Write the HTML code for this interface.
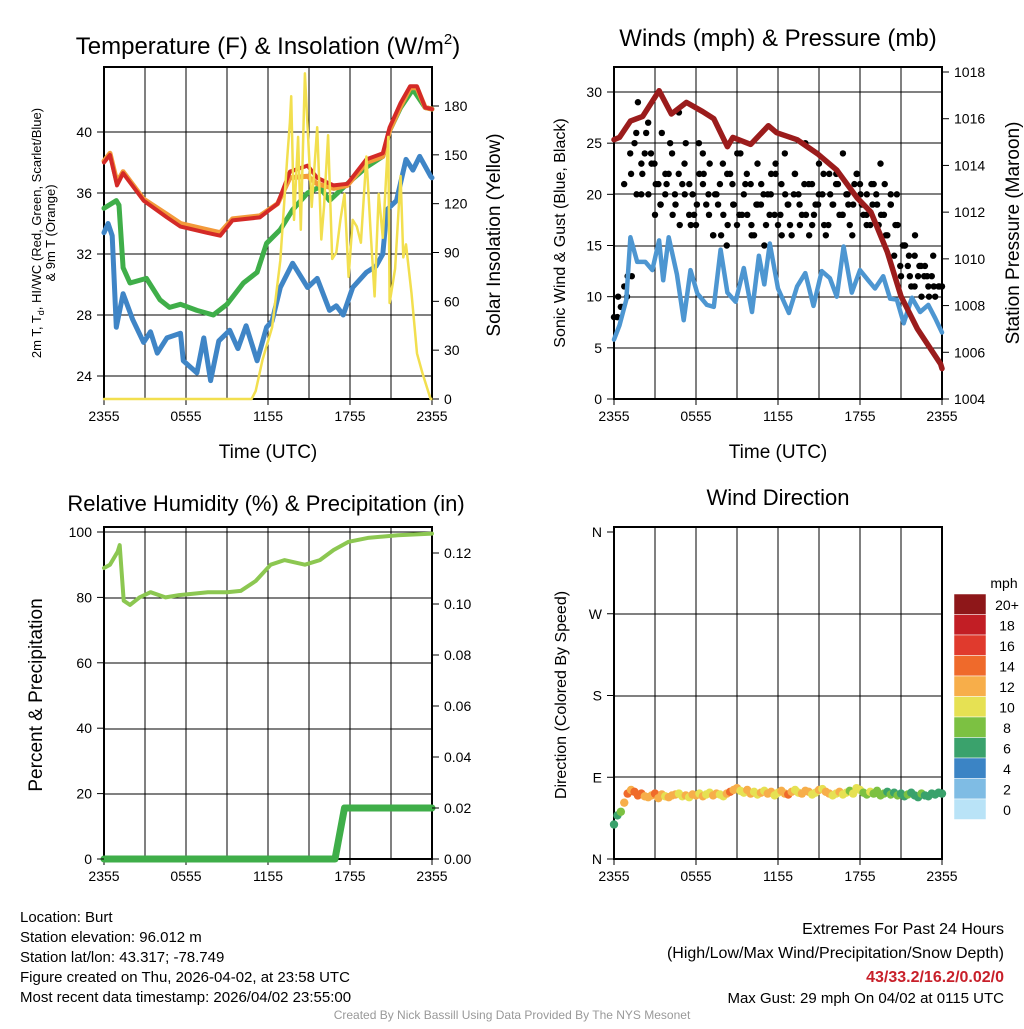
<!DOCTYPE html>
<html><head><meta charset="utf-8"><style>
body{margin:0;background:#fff}
svg text{font-family:"Liberation Sans",sans-serif;fill:#000}
</style></head><body>
<svg id="c" width="1024" height="1024" viewBox="0 0 1024 1024" xmlns="http://www.w3.org/2000/svg"></svg>
<script>
// ---- data ----
const xTickLabels=["2355","0555","1155","1755","2355"];
const tTimes=[0,0.44,0.95,1.4,2.9,4.6,5.6,7.5,8.5,9.4,11.4,12.7,13.6,14.9,15.6,16.8,17.8,19.2,20.4,20.9,21.7,22.4,22.9,23.5,24];
const tempRed=[38.0,38.5,36.5,37.3,35.5,34.4,33.8,33.4,33.2,34.2,34.4,35.3,37.4,37.8,37.0,36.5,36.6,38.2,38.6,40.3,41.9,43.0,43.0,41.6,41.5];
const tempOrange=[38.1,38.6,36.7,37.4,35.6,34.6,34.0,33.6,33.4,34.3,34.5,35.3,37.0,37.1,36.6,36.3,36.5,38.0,38.4,40.1,41.7,42.9,42.9,41.6,41.5];
const gTimes=[0,0.9,1.1,1.4,1.9,3.1,4.1,4.8,5.6,6.8,8,9,10.2,11.2,11.9,12.9,13.8,14.9,15.8,16.5,17.8,19.2,20.4,20.9,21.7,22.6,23.5,24];
const tempGreen=[35.0,35.5,35.2,31.1,30.1,30.4,29.0,28.5,28.7,28.3,28.0,28.7,30.1,30.8,32.7,33.6,34.9,36.0,36.4,35.5,36.6,37.7,38.4,40.1,41.6,42.8,41.6,41.5];
const bTimes=[0,0.3,0.6,0.9,1.4,2.1,2.9,3.4,3.9,4.6,5.6,5.8,6.8,7.3,7.8,8.4,9.2,9.8,10.4,11.2,11.9,12.3,12.9,13.8,14.9,15.6,16.5,17,17.5,18.2,19.2,19.9,20.4,20.7,21.4,22.1,22.6,23.1,23.9,24];
const tempBlue=[33.4,34.0,33.2,27.2,29.4,27.7,26.2,26.9,25.5,26.5,26.8,25.0,24.2,26.5,23.7,26.3,27.0,25.8,27.3,25.0,27.2,27.6,29.8,31.4,29.8,30.4,28.3,28.6,28.0,29.8,30.8,31.2,32.0,34.9,35.5,38.2,37.5,38.4,37.1,37.0];
const sTimes=[0,10.8,11.1,11.6,12.3,12.9,13.4,13.6,13.7,13.9,14.2,14.4,14.7,15,15.2,15.6,15.9,16.1,16.4,16.7,17,17.3,17.6,17.9,18.2,18.5,18.8,19.2,19.5,19.8,20.1,20.4,20.8,20.9,21.3,21.7,21.9,22.1,22.5,22.9,23.3,23.9,24];
const solar=[0,0,5,24,44,85,147,170,186,110,161,104,200,150,118,167,98,118,162,86,90,110,126,75,110,106,96,149,104,63,126,99,161,59,80,137,87,95,65,28,16,0,0];
const windTimesN=[0,0.4,0.9,1.2,1.7,2.3,2.8,3.3,3.6,4,4.6,5.1,5.6,6.1,6.8,7.3,7.8,8.3,8.9,9.5,10.1,10.6,11,11.4,12,12.8,13.4,14,14.6,15.2,15.8,16.3,16.8,17.4,18,18.6,19.1,19.7,20.2,20.7,21.2,21.8,22.4,23,23.5,24];
const windSpeed=[5.8,7.2,9.7,15.8,13.4,13.4,12.6,15.5,11.6,15.8,12.2,7.7,12.6,10.3,9.2,9.0,14.6,10.4,9.5,12.8,8.5,14.0,11.2,15.2,10.8,8.4,11.0,12.3,9.1,12.5,11.8,10.0,14.9,10.4,12.6,11.6,10.8,12.0,9.8,9.7,7.4,9.9,8.5,9.2,7.9,6.5];
const pTimes=[0,0.4,1.2,2.1,3.3,4.2,5.3,6.5,7.3,8.3,8.7,10,11.3,11.9,13.4,14.9,16.3,17.8,18.8,20,21,22.2,23.9,24];
const pressure=[1015.1,1015.2,1015.9,1016.1,1017.2,1016.2,1016.7,1016.3,1016.0,1014.8,1015.2,1014.9,1015.7,1015.4,1015.1,1014.5,1013.8,1012.6,1012.0,1010.3,1008.4,1007.0,1005.5,1005.3];
const gust=[8,8,9,11,12,22,25,29,20,24,27,23,18,21,26,20,22,24,19,28,21,25,18,20,17,22,24,19,23,16,20,21,18,15,22,19,17,24,20,18,21,16,23,19,15,20,22,18,17,21,24,19,16,22,20,18,25,21,17,19,23,20,16,22,19,21,18,24,20,17,19,22,21,18,20,17,21,19,23,18,16,20,14,17,12,15,13,11,14,12,10,13,11,12,10,11,11];
const gust2=[9,10,12,20,23,26,24,21,19,22,25,20,17,23,21,18,25,22,20,16,19,23,17,21,24,18,22,16,19,21,17,20,23,18,20,17,22,19,21,16,18,20,22,17,19,21,18,20,16,22,19,17,21,20,18,16,19,17,13,15,12,11,13,12,10,11];
const gust3=[10,21,24,26,22,20,23,19,21,18,22,20,17,19,21,18,20,16,22,19,18,21,17,19,20,18,22,16,19,20,17,18,21,19,17,20,22,18,19,21,20,18,19,17,21,19,20,15,14,16,13,12,14,11];
const windDir=[38,48,52,62,72,76,74,70,72,69,68,70,72,67,71,69,68,70,71,72,69,70,68,71,70,72,69,71,73,70,72,71,69,72,74,76,78,75,73,76,72,74,71,73,75,72,74,70,73,75,72,71,74,76,73,72,75,74,71,73,76,77,74,72,70,72,74,71,73,75,72,78,76,73,71,74,72,75,70,72,74,71,73,70,72,69,71,73,70,68,72,70,69,72,71,73,72];
const dirSpeed=[6,7,8,12,14,13,14,15,14,13,12,13,14,13,12,11,12,13,12,11,10,12,11,13,12,11,12,10,11,13,12,11,10,12,14,13,12,11,10,12,13,11,10,12,11,13,12,10,11,12,13,14,12,11,10,12,13,12,11,10,12,11,12,13,11,10,12,11,10,9,10,11,10,9,8,10,9,8,9,8,7,8,7,8,7,6,8,7,6,7,8,7,6,7,6,7,6];
const rhTimes=[0,0.44,1,1.15,1.44,1.9,2.6,3.4,4.5,5.5,7.6,9,10,11.1,12.2,13.2,14.7,15.8,16.8,17.9,19.3,21.5,24];
const rh=[89,90,94,96,79,77.7,80,81.6,80,80.7,81.6,81.6,82,85,90,91.4,90,91.4,94.5,97,98.2,99,99.5];
const prTimes=[0,16.9,17.6,24];
const precip=[0,0,0.02,0.02];
const cbLabels=["20+","18","16","14","12","10","8","6","4","2","0"];
const cbColors=["#8e1719","#c21e25","#e03a2d","#ef6a2b","#f7ae4a","#e6e153","#7cc142","#3aa26c","#3b84c5","#7fbce4","#b9e3f7"];

// ---- drawing ----
const S=document.getElementById('c');const NS="http://www.w3.org/2000/svg";
function el(tag,at,txt,parent){const e=document.createElementNS(NS,tag);for(const k in at)e.setAttribute(k,at[k]);if(txt!==undefined)e.textContent=txt;(parent||S).appendChild(e);return e;}
function lin(d0,d1,r0,r1){return v=>r0+(v-d0)/(d1-d0)*(r1-r0);}
function path(xs,ys,fx,fy,stroke,w,name){let d="";for(let i=0;i<xs.length;i++)d+=(i?"L":"M")+fx(xs[i]).toFixed(1)+","+fy(ys[i]).toFixed(1);
 const p=el('path',{d:d,fill:'none',stroke:stroke,'stroke-width':w,'stroke-linejoin':'round','stroke-linecap':'round'});
 
 return p;}
function txt(x,y,s,size,anchor,name,extra){const t=el('text',Object.assign({x:x,y:y,'font-size':size,'text-anchor':anchor||'start'},extra||{}),s);
 
 return t;}
function frame(x0,y0,x1,y1,name,hLines){
 const g=el('g',{});
 
 
 for(let i=0;i<=8;i++){const x=x0+(x1-x0)*i/8;el('line',{x1:x,y1:y0,x2:x,y2:y1,stroke:'#000','stroke-width':1},undefined,g);}
 hLines.forEach(y=>el('line',{x1:x0,y1:y,x2:x1,y2:y,stroke:'#000','stroke-width':1},undefined,g));
 el('rect',{x:x0,y:y0,width:x1-x0,height:y1-y0,fill:'none',stroke:'#000','stroke-width':2},undefined,g);
 xTickLabels.forEach((l,i)=>{const x=x0+(x1-x0)*i/4;el('line',{x1:x,y1:y1,x2:x,y2:y1+6,stroke:'#000'},undefined,g);
  txt(x,y1+22,l,14,'middle','x-tick-label');});
 return g;}
function ticksL(x,vals,fy,fmt){vals.forEach(v=>{const y=fy(v);el('line',{x1:x-7,y1:y,x2:x,y2:y,stroke:'#000'});txt(x-12,y+5,fmt(v),14,'end','y-tick-label');});}
function ticksR(x,vals,fy,fmt){vals.forEach(v=>{const y=fy(v);el('line',{x1:x,y1:y,x2:x+7,y2:y,stroke:'#000'});txt(x+12,y+5,fmt(v),14,'start','y2-tick-label');});}

// Panel 1
let fx=lin(0,24,104,432),fy=lin(24,40,376,132),fs=lin(0,180,399,106);
frame(104,67,432,399,'temperature-plot',[132,193,254,315,376]);
path(bTimes,tempBlue,fx,fy,'#3f85c6',5,'dewpoint-line');
path(gTimes,tempGreen,fx,fy,'#3fae49',5,'windchill-line');
path(tTimes,tempOrange,fx,fy,'#f39a3a',5,'temp-9m-line');
path(tTimes,tempRed,fx,fy,'#d42a27',4,'temp-2m-line');
path(sTimes,solar,fx,fs,'#f2df4f',2.5,'solar-line');
ticksL(104,[24,28,32,36,40],fy,v=>v);
ticksR(432,[0,30,60,90,120,150,180],fs,v=>v);
txt(268,54,"Temperature (F) & Insolation (W/m",24,'middle','temp-title').innerHTML='Temperature (F) &amp; Insolation (W/m<tspan font-size="15" dy="-10">2</tspan><tspan dy="10">)</tspan>';
txt(268,458,"Time (UTC)",19,'middle','x-axis-title');
let yl=txt(0,0,"",13,'middle','temp-y-axis-title',{transform:'translate(41,233) rotate(-90)'});
yl.innerHTML='2m T, T<tspan font-size="9" dy="3">d</tspan><tspan dy="-3">, HI/WC (Red, Green, Scarlet/Blue)</tspan>';
txt(0,0,"& 9m T (Orange)",13,'middle','temp-y-axis-title-2',{transform:'translate(55,233) rotate(-90)'});
txt(0,0,"Solar Insolation (Yellow)",19,'middle','solar-y-axis-title',{transform:'translate(500,235) rotate(-90)'});

// Panel 2
fx=lin(0,24,614,942);let fw=lin(0,30,399,92),fp=lin(1004,1018,399,72);
frame(614,67,942,399,'winds-plot',[92,143,194,246,297,348]);
function dots(arr,t0,t1){arr.forEach((g,i)=>{const c=el('circle',{cx:fx(t0+i*(t1-t0)/(arr.length-1)),cy:fw(g),r:3.2,fill:'#000'});
 
 });}
dots(gust,0,24);dots(gust2,0.6,23.4);dots(gust3,0.3,23.8);
path(windTimesN,windSpeed,fx,fw,'#4d96d1',4.5,'wind-speed-line');
path(pTimes,pressure,fx,fp,'#9b1c1c',5.5,'pressure-line');
ticksL(614,[0,5,10,15,20,25,30],fw,v=>v);
ticksR(942,[1004,1006,1008,1010,1012,1014,1016,1018],fp,v=>v);
txt(778,46,"Winds (mph) & Pressure (mb)",24,'middle','winds-title');
txt(778,458,"Time (UTC)",19,'middle','x-axis-title');
txt(0,0,"Sonic Wind & Gust (Blue, Black)",16,'middle','wind-y-axis-title',{transform:'translate(565,233) rotate(-90)'});
txt(0,0,"Station Pressure (Maroon)",19,'middle','pressure-y-axis-title',{transform:'translate(1019,233) rotate(-90)'});

// Panel 3
fx=lin(0,24,104,432);let fr=lin(0,100,859,532),fpr=lin(0,0.12,859,553);
frame(104,527,432,859,'humidity-plot',[532,598,663,729,794]);
path(rhTimes,rh,fx,fr,'#8cc751',4,'rh-line');
path(prTimes,precip,fx,fpr,'#3fae49',7,'precip-line');
ticksL(104,[0,20,40,60,80,100],fr,v=>v);
ticksR(432,[0,0.02,0.04,0.06,0.08,0.10,0.12],fpr,v=>v.toFixed(2));
txt(266,511,"Relative Humidity (%) & Precipitation (in)",22,'middle','humidity-title');
txt(0,0,"Percent & Precipitation",19,'middle','rh-y-axis-title',{transform:'translate(42,695) rotate(-90)'});

// Panel 4
fx=lin(0,24,614,942);let fd=lin(0,360,859,532);
frame(614,527,942,859,'direction-plot',[614,696,777]);
function colorFor(s){let idx=Math.min(10,Math.floor(s/2));return cbColors[10-idx];}
windDir.forEach((d,i)=>{const c=el('circle',{cx:fx(i*24/(windDir.length-1)),cy:fd(d),r:4.2,fill:colorFor(dirSpeed[i])});
 
 });
["N","E","S","W","N"].forEach((l,i)=>{const y=fd(i*90);el('line',{x1:607,y1:y,x2:614,y2:y,stroke:'#000'});txt(602,y+5,l,14,'end','direction-tick-label');});
txt(778,505,"Wind Direction",22,'middle','direction-title');
txt(0,0,"Direction (Colored By Speed)",16,'middle','direction-y-axis-title',{transform:'translate(566,695) rotate(-90)'});
txt(1004,588,"mph",14,'middle','colorbar-unit');
cbColors.forEach((c,i)=>{const r=el('rect',{x:954,y:594+i*20.5,width:32,height:20.5,fill:c,stroke:'#fff','stroke-width':0.5});
 
 
 txt(1007,594+i*20.5+16,cbLabels[i],14,'middle','colorbar-label');});

// Text
["Location: Burt","Station elevation: 96.012 m","Station lat/lon: 43.317; -78.749","Figure created on Thu, 2026-04-02, at 23:58 UTC","Most recent data timestamp: 2026/04/02 23:55:00"].forEach((s,i)=>txt(20,922+i*20,s,15,'start','station-info'));
txt(1004,934,"Extremes For Past 24 Hours",16,'end','extremes-title');
txt(1004,958,"(High/Low/Max Wind/Precipitation/Snow Depth)",16,'end','extremes-subtitle');
txt(1004,982,"43/33.2/16.2/0.02/0",16,'end','extremes-values',{fill:'#c8202a','font-weight':'bold',style:'fill:#c8202a'});
txt(1004,1003,"Max Gust: 29 mph On 04/02 at 0115 UTC",15,'end','max-gust');
txt(512,1019,"Created By Nick Bassill Using Data Provided By The NYS Mesonet",12,'middle','credit',{style:'fill:#999'});
</script>
</body></html>
